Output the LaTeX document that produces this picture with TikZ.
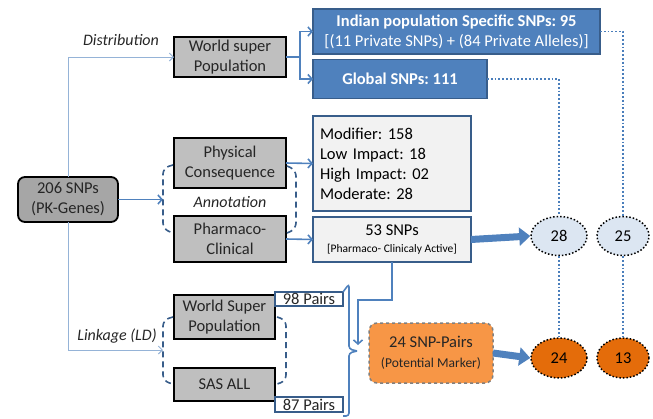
\documentclass[tikz,border=0pt]{standalone}
\usepackage{fontspec}
\setmainfont{Carlito}
\usetikzlibrary{arrows.meta,shapes.geometric,calc}
\definecolor{gboxfill}{HTML}{BFBFBF}
\definecolor{darkgfill}{HTML}{A6A6A6}
\definecolor{bluefill}{HTML}{4F81BD}
\definecolor{blueedge}{HTML}{385D8A}
\definecolor{lightfill}{HTML}{F2F2F2}
\definecolor{palearrow}{HTML}{95B3D7}
\definecolor{paleell}{HTML}{DCE6F2}
\definecolor{orangefill}{HTML}{F79646}
\definecolor{darkorange}{HTML}{E46C0A}
\definecolor{dotblue}{HTML}{4A7EBB}
\frenchspacing
\tikzset{
  base/.style={inner sep=0pt, outer sep=0pt, align=center, font=\fontsize{16.5}{20}\selectfont},
  graybox/.style={base, draw=black, line width=1.8pt, fill=gboxfill, text=black!85},
  bluebox/.style={base, draw=blueedge, line width=1.2pt, fill=bluefill, text=white, font=\fontsize{16.5}{20}\selectfont\bfseries},
  lightbox/.style={base, draw=blueedge, line width=1.2pt, fill=lightfill, text=black},
  pairbox/.style={base, draw=blueedge, line width=1.5pt, fill=white, text=black!85},
  ellpale/.style={ellipse, inner sep=0pt, draw=black, dotted, line width=1.5pt, fill=paleell, font=\fontsize{16.5}{20}\selectfont},
  ellorange/.style={ellipse, inner sep=0pt, draw=black, dotted, line width=1.5pt, fill=darkorange, font=\fontsize{16.5}{20}\selectfont},
  thinarrow/.style={draw=palearrow, line width=1pt, -{Straight Barb[length=4pt,width=8pt]}},
  midline/.style={draw=bluefill, line width=1.6pt},
  midarrow/.style={midline, -{Straight Barb[length=4pt,width=9pt]}},
  dashbr/.style={draw=blueedge, line width=1.6pt, dash pattern=on 6pt off 4pt, rounded corners=6pt},
  fatarrow/.style={draw=bluefill, line width=7pt, -{Triangle[length=11pt,width=18pt]}},
  dotline/.style={draw=dotblue, line width=1.8pt, dotted},
  lbl/.style={font=\fontsize{16}{19}\selectfont\itshape, text=black!85, inner sep=0pt}
}
\begin{document}
\begin{tikzpicture}[x=1pt,y=-1pt]
\useasboundingbox (0,0) rectangle (653,418);

% nodes
\node[graybox, fill=darkgfill, rounded corners=7pt, minimum width=100, minimum height=45] (n206) at (68,199.5) {206 SNPs\\(PK-Genes)};
\node[graybox, minimum width=112, minimum height=40] (wsp) at (230,57) {World super\\Population};
\node[graybox, minimum width=112, minimum height=50] (phys) at (230,163) {Physical\\Consequence};
\node[graybox, minimum width=112, minimum height=46] (pharm) at (230,239) {Pharmaco-\\Clinical};
\node[graybox, minimum width=101, minimum height=44] (wsp2) at (224.5,317) {World Super\\Population};
\node[graybox, minimum width=101, minimum height=33] (sas) at (224.5,384.5) {SAS ALL};
\node[pairbox, minimum width=68, minimum height=14] (p98) at (309,299) {98 Pairs};
\node[pairbox, minimum width=68, minimum height=15] (p87) at (309,404.5) {87 Pairs};

\node[bluebox, minimum width=287, minimum height=45] (indian) at (456.5,31.5) {Indian population Specific SNPs: 95\\{\mdseries[(11 Private SNPs) + (84 Private Alleles)]}};
\node[bluebox, minimum width=174, minimum height=39] (global) at (400,79) {Global SNPs: 111};
\node[lightbox, minimum width=158, minimum height=95, align=left, text width=144pt, inner xsep=7pt] (modbox) at (392,163.5) {Modifier:~158\\Low Impact: 18\\High Impact: 02\\Moderate: 28};
\node[lightbox, minimum width=158, minimum height=45] (snp53) at (392,239.5) {53 SNPs\\[-3pt]{\fontsize{11.5}{13}\selectfont [Pharmaco- Clinicaly Active]}};
\node[base, draw=gray, fill=orangefill, dashed, line width=1.5pt, rounded corners=8pt, minimum width=124, minimum height=60, text=black!85] (pairs24) at (431,353) {24 SNP-Pairs\\{\fontsize{13.5}{16}\selectfont (Potential Marker)}};

\node[ellpale, minimum width=56, minimum height=39] (e28) at (559,236) {28};
\node[ellpale, minimum width=52, minimum height=39] (e25) at (623,236) {25};
\node[ellorange, minimum width=56, minimum height=40] (e24) at (559,358) {24};
\node[ellorange, minimum width=52, minimum height=40] (e13) at (623,358) {13};

% labels
\node[lbl] (ldist) at (121,40) {Distribution};
\node[lbl] (lann) at (230,202) {Annotation};
\node[lbl] (llink) at (117,336) {Linkage (LD)};

% coordinates
\coordinate (annbr) at (163,199.5);
\coordinate (ldbr) at (163,350);
\coordinate (split) at (300,57);
\coordinate (mergept) at (358,345);

% thin connectors from 206
\draw[thinarrow] (n206.north) |- (wsp.west);
\draw[thinarrow] (n206.south) |- (ldbr);
\draw[midarrow] (n206.east) -- (annbr);

% annotation brackets
\draw[dashbr] (173,165) -- (163,168) -- (163,229) -- (173,233);
\draw[dashbr] (287,166) -- (296,170) -- (296,229) -- (287,233);
% LD brackets
\draw[dashbr] (173,317) -- (163,320) -- (163,381) -- (173,384);
\draw[dashbr] (277,317) -- (286,320) -- (286,381) -- (277,384);

% distribution split
\draw[midline] (wsp.east) -- (split);
\draw[midarrow] (split) |- (indian.west);
\draw[midarrow] (split) |- (global.west);

\draw[midarrow] (phys.east) -- (modbox.west);
\draw[midarrow] (pharm.east) -- (snp53.west);

% 53 -> merge
\draw[midarrow] (snp53.south) -- ++(0,38) -| (mergept);

% pairs brace
\draw[midline, rounded corners=3pt] (p98.north east) -- (349,284) -- (349,349) -- (357,351);
\draw[midline, rounded corners=3pt] (357,351) -- (349,353) -- (349,416) -- (p87.south east |- 0,416);

% fat arrows
\draw[fatarrow] (snp53.east) -- (e28.west);
\draw[fatarrow] (pairs24.east) -- (e24.west);

% dotted lines
\draw[dotline] (global.east) -| (e28.north);
\draw[dotline] (indian.east) -| (e25.north);
\draw[dotline] (e28.south) -- (e24.north);
\draw[dotline] (e25.south) -- (e13.north);
\end{tikzpicture}
\end{document}
